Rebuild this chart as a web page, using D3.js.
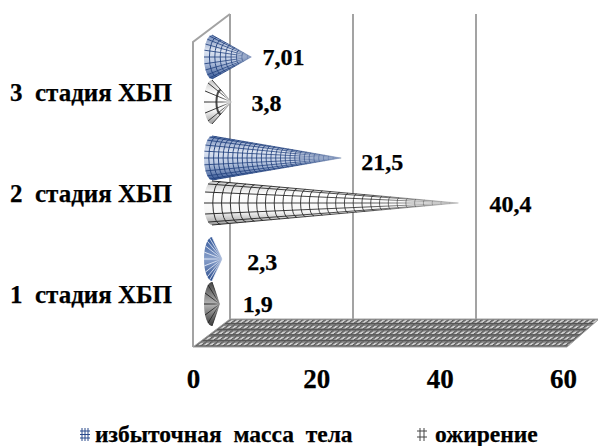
<!DOCTYPE html>
<html>
<head>
<meta charset="utf-8">
<script src="https://cdn.jsdelivr.net/npm/d3@7"></script>
<style>
  html, body { margin: 0; padding: 0; background: #fff; }
  svg { display: block; }
  text { font-family: "Liberation Serif", "Times New Roman", serif; font-weight: bold; fill: #000; stroke: #000; stroke-width: 0.25px; }
</style>
</head>
<body>
<div id="chart"></div>
<script>
const categories = ["3  стадия ХБП", "2  стадия ХБП", "1  стадия ХБП"];
const seriesNames = ["избыточная  масса  тела", "ожирение"];
const overweightValues = [7.01, 21.5, 2.3];
const obesityValues = [3.8, 40.4, 1.9];
const xTicks = [0, 20, 40, 60];

const width = 598, height = 446;

const svg = d3.select("#chart").append("svg")
  .attr("width", width)
  .attr("height", height);

const defs = svg.append("defs");

// 3d box: back wall, front edge, floor
const floorTop = 319, floorBottom = 347, wallTop = 14, frontTop = 42;
const xFront = d3.scaleLinear().domain([0, 60]).range([193, 563]);
const xBack = d3.scaleLinear().domain([0, 60]).range([230, 599]);
const xCone = d3.scaleLinear().domain([0, 60]).range([208, 580]);

const y = d3.scaleBand().domain(categories).range([29, 332]);
const ySub = d3.scaleBand().domain(seriesNames).range([5.5, 95.5]);
const coneH = 22, coneRx = 8, coneShift = 4;

// gradients across the cones
function gradient(id, stops) {
  const g = defs.append("linearGradient").attr("id", id)
    .attr("x1", 0).attr("y1", 0).attr("x2", 0).attr("y2", 1);
  stops.forEach(s => g.append("stop").attr("offset", s[0]).attr("stop-color", s[1]));
}
gradient("blueCone", [[0, "#6f88b8"], [0.35, "#dde4f1"], [0.6, "#bccae3"], [1, "#365795"]]);
gradient("whiteCone", [[0, "#c4c4c4"], [0.3, "#fff"], [0.7, "#f6f6f6"], [1, "#999"]]);
gradient("blueSmall", [[0, "#2f5496"], [0.5, "#8ba2cc"], [1, "#2a4c8c"]]);
gradient("graySmall", [[0, "#444"], [0.5, "#b5b5b5"], [1, "#3a3a3a"]]);

// floor texture
const floorPat = defs.append("pattern").attr("id", "floorTex")
  .attr("patternUnits", "userSpaceOnUse")
  .attr("width", 5.6).attr("height", 5.6)
  .attr("patternTransform", "skewX(-53)");
floorPat.append("rect").attr("width", 5.6).attr("height", 5.6).attr("fill", "#7d7d7d");
floorPat.append("rect").attr("x", 1).attr("y", 1).attr("width", 2.6).attr("height", 2.6).attr("fill", "#d4d4d4");
floorPat.append("rect").attr("x", 0).attr("y", 3.9).attr("width", 5.6).attr("height", 1.1).attr("fill", "#555");
floorPat.append("rect").attr("x", 3.9).attr("y", 0).attr("width", 1.1).attr("height", 5.6).attr("fill", "#555");

svg.append("path")
  .attr("d", `M${xFront(0)},${floorBottom}L${xBack(0)},${floorTop}L${xBack(60)},${floorTop}L${xFront(60) + 4},${floorBottom}Z`)
  .attr("fill", "url(#floorTex)")
  .attr("stroke", "#a0a0a0")
  .attr("stroke-width", 1);

const gridColor = "#a3a3a3";
svg.append("g").selectAll("line")
  .data(xTicks.slice(0, 3))
  .join("line")
  .attr("x1", d => xBack(d)).attr("x2", d => xBack(d))
  .attr("y1", wallTop).attr("y2", floorTop)
  .attr("stroke", gridColor).attr("stroke-width", 2);

svg.append("path")
  .attr("d", `M${xFront(0)},${floorBottom}L${xFront(0)},${frontTop}L${xBack(0)},${wallTop}`)
  .attr("fill", "none")
  .attr("stroke", gridColor).attr("stroke-width", 2);

// cones
const conePoints = [];
categories.forEach((c, i) => {
  conePoints.push({cat: c, series: seriesNames[0], value: overweightValues[i]});
  conePoints.push({cat: c, series: seriesNames[1], value: obesityValues[i]});
});

// value label nudges, in reading order (top to bottom)
const labelDx = [11, 20, 20, 31, 25, 23];
const labelDy = [0, 1, 4, 1, 3, 0];

function drawCone(g, d, idx) {
  const cy = y(d.cat) + ySub(d.series) + ySub.bandwidth() / 2;
  const base = xCone(0) + coneShift, tip = xCone(d.value);
  const isBlue = d.series === seriesNames[0];
  const small = d.value < 3;
  const fill = small ? (isBlue ? "blueSmall" : "graySmall") : (isBlue ? "blueCone" : "whiteCone");
  const lineColor = small ? (isBlue ? "#eef2fb" : "#222") : (isBlue ? "#24437f" : "#2b2b2b");

  // lines fade on the way to the tip, otherwise they clot there
  const fade = defs.append("linearGradient").attr("id", "fade" + idx)
    .attr("gradientUnits", "userSpaceOnUse")
    .attr("x1", base - coneRx).attr("y1", 0).attr("x2", tip).attr("y2", 0);
  fade.append("stop").attr("offset", 0).attr("stop-color", lineColor);
  fade.append("stop").attr("offset", 0.65).attr("stop-color", lineColor).attr("stop-opacity", 0.8);
  fade.append("stop").attr("offset", 1).attr("stop-color", lineColor).attr("stop-opacity", 0.05);
  const strokeUrl = `url(#fade${idx})`;

  g.append("path")
    .attr("d", `M${tip},${cy}L${base},${cy - coneH}A${coneRx},${coneH} 0 0 0 ${base},${cy + coneH}Z`)
    .attr("fill", `url(#${fill})`);

  const n = isBlue ? 10 : 6;
  d3.range(n + 1).forEach(k => {
    const a = -Math.PI / 2 + Math.PI * (k / n);
    g.append("line")
      .attr("x1", base - coneRx * Math.cos(a))
      .attr("y1", cy + coneH * Math.sin(a))
      .attr("x2", tip).attr("y2", cy + 0.01)
      .attr("stroke", strokeUrl)
      .attr("stroke-width", isBlue ? 0.9 : 1);
  });

  // rings along the cone
  const step = isBlue ? 4.5 : 8.5;
  if (!small) {
    const len = tip - base;
    const rings = d.value < 5 ? [0.45] : d3.range(step, len * 0.97, step).map(v => v / len);
    rings.forEach(t => {
      const rx = coneRx * (1 - t), ry = coneH * (1 - t), cx = base + len * t;
      g.append("path")
        .attr("d", `M${cx},${cy - ry}A${rx},${ry} 0 0 0 ${cx},${cy + ry}`)
        .attr("fill", "none")
        .attr("stroke", strokeUrl)
        .attr("stroke-width", d.value < 5 ? 2 : 1);
    });
  }
}

const coneG = svg.append("g");
conePoints.forEach((d, i) => drawCone(coneG.append("g"), d, i));

// value labels
svg.append("g").selectAll("text")
  .data(conePoints)
  .join("text")
  .attr("x", (d, i) => xCone(d.value) + labelDx[i])
  .attr("y", (d, i) => y(d.cat) + ySub(d.series) + ySub.bandwidth() / 2 + labelDy[i])
  .attr("dy", "0.33em")
  .attr("font-size", 24)
  .text(d => String(d.value).replace(".", ","));

// axes
const xAxis = d3.axisBottom(xFront).tickValues(xTicks).tickSize(0).tickPadding(0);
const xG = svg.append("g").attr("transform", "translate(0,369)").call(xAxis);
xG.select(".domain").remove();
xG.selectAll("text").attr("font-size", 27).attr("font-family", null)
  .attr("dy", "0.71em").attr("y", 0);

const yAxis = d3.axisLeft(y).tickSize(0).tickPadding(0);
const yG = svg.append("g").attr("transform", "translate(172,13)").call(yAxis);
yG.select(".domain").remove();
yG.selectAll("text").attr("font-size", 25).attr("font-family", null)
  .style("white-space", "pre");

// legend
const legendX = [[80, 95], [417, 435]];
const legendColor = ["#2a4a8c", "#444"];
const legend = svg.append("g").selectAll("g")
  .data(seriesNames)
  .join("g");
legend.each(function(name, i) {
  const g = d3.select(this);
  const x0 = legendX[i][0];
  const cols = i === 0 ? [2, 5, 8] : [3, 7];
  const rows = i === 0 ? [431, 434.5, 438] : [431, 437];
  cols.forEach(c => g.append("line")
    .attr("x1", x0 + c).attr("x2", x0 + c)
    .attr("y1", 428).attr("y2", 441)
    .attr("stroke", legendColor[i]).attr("stroke-width", 1));
  rows.forEach(r => g.append("line")
    .attr("x1", x0).attr("x2", x0 + 10)
    .attr("y1", r).attr("y2", r)
    .attr("stroke", legendColor[i]).attr("stroke-width", 1));
  g.append("text")
    .attr("x", legendX[i][1]).attr("y", 442)
    .attr("font-size", 23.5)
    .style("white-space", "pre")
    .text(name);
});
</script>
</body>
</html>
